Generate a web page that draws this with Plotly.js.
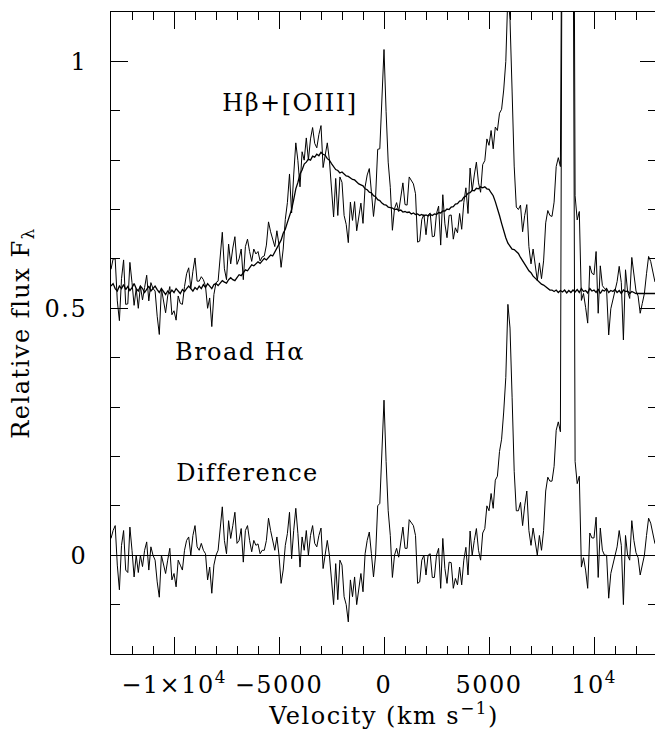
<!DOCTYPE html>
<html>
<head>
<meta charset="utf-8">
<script src="https://cdn.plot.ly/plotly-3.0.1.min.js"></script>
<style>
html, body { margin: 0; padding: 0; background: #fff; overflow: hidden; }
#chart { width: 660px; height: 730px; }
#chart text { letter-spacing: 1.5px; }
</style>
</head>
<body>
<div id="chart"></div>
<script>
// Velocity grid (km/s)
const velocity = [
-13000,-12900,-12800,-12700,-12600,-12500,-12400,-12300,-12200,-12100,
-12000,-11900,-11800,-11700,-11600,-11500,-11400,-11300,-11200,-11100,
-11000,-10900,-10800,-10700,-10600,-10500,-10400,-10300,-10200,-10100,
-10000,-9900,-9800,-9700,-9600,-9500,-9400,-9300,-9200,-9100,
-9000,-8900,-8800,-8700,-8600,-8500,-8400,-8300,-8200,-8100,
-8000,-7900,-7800,-7700,-7600,-7500,-7400,-7300,-7200,-7100,
-7000,-6900,-6800,-6700,-6600,-6500,-6400,-6300,-6200,-6100,
-6000,-5900,-5800,-5700,-5600,-5500,-5400,-5300,-5200,-5100,
-5000,-4900,-4800,-4700,-4600,-4500,-4400,-4300,-4200,-4100,
-4000,-3900,-3800,-3700,-3600,-3500,-3400,-3300,-3200,-3100,
-3000,-2900,-2800,-2700,-2600,-2500,-2400,-2300,-2200,-2100,
-2000,-1900,-1800,-1700,-1600,-1500,-1400,-1300,-1200,-1100,
-1000,-900,-800,-700,-600,-500,-400,-300,-200,-100,
0,100,200,300,400,500,600,700,800,900,
1000,1100,1200,1300,1400,1500,1600,1700,1800,1900,
2000,2100,2200,2300,2400,2500,2600,2700,2800,2900,
3000,3100,3200,3300,3400,3500,3600,3700,3800,3900,
4000,4100,4200,4300,4400,4500,4600,4700,4800,4900,
5000,5100,5200,5300,5400,5500,5600,5700,5800,5900,
6000,6100,6200,6300,6400,6500,6600,6700,6800,6900,
7000,7100,7200,7300,7400,7500,7600,7700,7800,7900,
8000,8100,8200,8300,8400,8500,8600,8700,8800,8900,
9000,9100,9200,9300,9400,9500,9600,9700,9800,9900,
10000,10100,10200,10300,10400,10500,10600,10700,10800,10900,
11000,11100,11200,11300,11400,11500,11600,11700,11800,11900,
12000,12100,12200,12300,12400,12500,12600,12700,12800,12900,
13000];

// H beta + [OIII] profile (relative flux)
const hbetaOIII = [
0.579,0.60,0.60,0.515,0.475,0.56,0.598,0.508,0.509,0.593,
0.552,0.506,0.54,0.50,0.545,0.517,0.542,0.567,0.515,0.552,
0.54,0.535,0.484,0.447,0.54,0.515,0.491,0.525,0.544,0.487,
0.495,0.476,0.525,0.51,0.508,0.544,0.57,0.582,0.54,0.575,
0.602,0.555,0.555,0.564,0.558,0.545,0.50,0.521,0.463,0.528,
0.552,0.555,0.60,0.654,0.58,0.558,0.63,0.59,0.622,0.645,
0.589,0.60,0.62,0.558,0.625,0.64,0.615,0.595,0.62,0.61,
0.615,0.596,0.604,0.606,0.628,0.675,0.655,0.64,0.625,0.657,
0.628,0.583,0.62,0.68,0.714,0.772,0.693,0.77,0.835,0.799,
0.746,0.817,0.80,0.845,0.80,0.843,0.866,0.834,0.825,0.852,
0.87,0.785,0.81,0.835,0.80,0.751,0.685,0.763,0.688,0.766,
0.755,0.688,0.67,0.633,0.715,0.678,0.716,0.657,0.689,0.713,
0.672,0.746,0.77,0.783,0.736,0.686,0.726,0.822,0.823,0.914,
1.024,0.898,0.796,0.745,0.658,0.702,0.714,0.696,0.728,0.754,
0.71,0.709,0.766,0.758,0.752,0.732,0.634,0.636,0.68,0.69,
0.649,0.689,0.693,0.645,0.646,0.692,0.707,0.628,0.73,0.671,
0.643,0.688,0.689,0.64,0.663,0.653,0.692,0.66,0.714,0.744,
0.692,0.784,0.738,0.77,0.796,0.754,0.735,0.791,0.799,0.843,
0.83,0.86,0.823,0.867,0.86,0.895,0.903,0.942,1.00,1.138,
1.085,0.94,0.788,0.705,0.70,0.709,0.655,0.688,0.71,0.625,
0.59,0.62,0.59,0.556,0.592,0.56,0.596,0.673,0.698,0.688,
0.686,0.715,0.787,0.805,0.787,2.135,2.833,3.136,3.134,2.732,
1.935,0.728,0.679,0.696,0.516,0.53,0.502,0.47,0.586,0.571,
0.568,0.615,0.49,0.586,0.546,0.54,0.537,0.446,0.499,0.519,
0.534,0.554,0.585,0.552,0.436,0.578,0.534,0.52,0.603,0.565,
0.535,0.525,0.49,0.51,0.53,0.57,0.605,0.595,0.575,0.554,
0.56];

// Broad H alpha profile (relative flux)
const broadHalpha = [
0.545,0.55,0.54,0.535,0.545,0.54,0.548,0.538,0.544,0.536,
0.542,0.55,0.54,0.535,0.545,0.54,0.532,0.54,0.545,0.535,
0.54,0.545,0.538,0.532,0.54,0.535,0.528,0.535,0.53,0.537,
0.532,0.54,0.535,0.53,0.538,0.534,0.54,0.545,0.54,0.535,
0.542,0.538,0.545,0.54,0.548,0.542,0.55,0.545,0.54,0.548,
0.55,0.546,0.552,0.556,0.553,0.551,0.558,0.562,0.558,0.556,
0.562,0.568,0.566,0.571,0.578,0.576,0.582,0.588,0.586,0.59,
0.594,0.591,0.596,0.601,0.598,0.603,0.608,0.606,0.614,0.62,
0.63,0.638,0.652,0.66,0.674,0.688,0.70,0.72,0.742,0.755,
0.772,0.78,0.792,0.796,0.802,0.80,0.808,0.806,0.812,0.809,
0.816,0.812,0.81,0.803,0.80,0.793,0.786,0.781,0.779,0.774,
0.776,0.771,0.768,0.767,0.763,0.761,0.76,0.755,0.752,0.75,
0.748,0.742,0.74,0.735,0.734,0.728,0.726,0.72,0.718,0.713,
0.71,0.709,0.705,0.704,0.703,0.70,0.701,0.698,0.699,0.695,
0.696,0.694,0.695,0.691,0.693,0.69,0.691,0.688,0.69,0.687,
0.689,0.687,0.69,0.688,0.691,0.69,0.694,0.693,0.697,0.697,
0.701,0.70,0.705,0.706,0.711,0.712,0.717,0.718,0.725,0.727,
0.733,0.734,0.739,0.738,0.743,0.742,0.746,0.744,0.746,0.742,
0.741,0.734,0.728,0.716,0.703,0.688,0.672,0.655,0.643,0.632,
0.627,0.62,0.619,0.614,0.611,0.603,0.597,0.589,0.583,0.576,
0.572,0.565,0.561,0.556,0.553,0.549,0.547,0.543,0.541,0.537,
0.537,0.534,0.537,0.532,0.536,0.533,0.537,0.531,0.536,0.532,
0.537,0.533,0.538,0.532,0.54,0.534,0.536,0.531,0.54,0.535,
0.537,0.532,0.539,0.53,0.537,0.535,0.54,0.532,0.536,0.534,
0.538,0.532,0.536,0.53,0.537,0.534,0.535,0.53,0.534,0.532,
0.53,0.53,0.53,0.53,0.53,0.53,0.53,0.53,0.53,0.53,
0.53];

// Difference spectrum
const difference = [
0.034,0.05,0.06,-0.02,-0.07,0.02,0.05,-0.03,-0.035,0.057,
0.01,-0.044,0.0,-0.035,0.0,-0.023,0.01,0.027,-0.03,0.017,
0.0,-0.01,-0.054,-0.085,0.0,-0.02,-0.037,-0.01,0.014,-0.05,
-0.037,-0.064,-0.01,-0.02,-0.03,0.01,0.03,0.037,0.0,0.04,
0.06,0.017,0.01,0.024,0.01,0.003,-0.05,-0.024,-0.077,-0.02,
0.0,0.01,0.05,0.098,0.03,0.003,0.07,0.034,0.06,0.087,
0.024,0.03,0.054,-0.014,0.05,0.06,0.03,0.007,0.03,0.02,
0.023,0.003,0.01,0.01,0.03,0.075,0.05,0.03,0.01,0.037,
0.0,-0.057,-0.03,0.02,0.044,0.087,-0.007,0.05,0.095,0.044,
-0.024,0.037,0.01,0.05,0.0,0.04,0.06,0.024,0.017,0.04,
0.055,-0.027,0.0,0.03,0.0,-0.044,-0.1,-0.017,-0.09,-0.01,
-0.02,-0.084,-0.1,-0.135,-0.05,-0.084,-0.044,-0.1,-0.064,-0.037,
-0.074,0.003,0.03,0.047,0.003,-0.044,0.0,0.1,0.105,0.2,
0.314,0.19,0.09,0.04,-0.045,0.0,0.014,-0.004,0.03,0.057,
0.014,0.014,0.072,0.065,0.06,0.04,-0.057,-0.054,-0.01,0.0,
-0.04,0.0,0.003,-0.045,-0.045,0.0,0.014,-0.067,0.034,-0.027,
-0.057,-0.014,-0.015,-0.067,-0.047,-0.06,-0.024,-0.06,-0.01,0.016,
-0.04,0.049,0.0,0.03,0.054,0.01,-0.01,0.045,0.054,0.10,
0.09,0.125,0.095,0.152,0.16,0.21,0.235,0.29,0.36,0.508,
0.46,0.32,0.17,0.09,0.09,0.107,0.06,0.10,0.13,0.05,
0.02,0.055,0.03,0.0,0.04,0.01,0.05,0.13,0.158,0.15,
0.15,0.18,0.253,0.27,0.25,1.6,2.3,2.6,2.6,2.2,
1.4,0.19,0.145,0.16,-0.024,-0.005,-0.03,-0.067,0.045,0.035,
0.035,0.077,-0.045,0.055,0.01,0.0,0.0,-0.087,-0.037,-0.02,
0.0,0.017,0.05,0.02,-0.1,0.04,0.0,-0.01,0.07,0.03,
0.005,-0.005,-0.04,-0.02,0.0,0.04,0.075,0.065,0.045,0.024,
0.03];

// Axis ticks and labels
const xRange = [-13000, 13000];
const yRange = [-0.2, 1.1];
const xTickVals = [-10000, -5000, 0, 5000, 10000];
const xTickText = ["\u22121\u00d710<sup>4</sup>", "\u22125000", "0", "5000", "10<sup>4</sup>"];
const yTickVals = [0, 0.5, 1];
const yTickText = ["0", "0.5", "1"];

// Curve labels
const labelTexts = ["H\u03b2+[OIII]", "Broad H\u03b1", "Difference"];
const labelX = [-4480, -6850, -6480];
const labelY = [0.915, 0.411, 0.166];

const FONT = "'DejaVu Serif', 'Liberation Serif', serif";
const FSIZE = 24;

const traces = [
  { x: velocity, y: hbetaOIII, type: "scatter", mode: "lines", name: "H\u03b2+[OIII]",
    line: { color: "#000", width: 1 }, hoverinfo: "skip" },
  { x: velocity, y: broadHalpha, type: "scatter", mode: "lines", name: "Broad H\u03b1",
    line: { color: "#000", width: 1.3 }, hoverinfo: "skip" },
  { x: velocity, y: difference, type: "scatter", mode: "lines", name: "Difference",
    line: { color: "#000", width: 1 }, hoverinfo: "skip" },
  // empty traces so the tick-only frame axes are drawn
  { x: [], y: [], type: "scatter", mode: "lines", xaxis: "x2", yaxis: "y2", hoverinfo: "skip" },
  { x: [], y: [], type: "scatter", mode: "lines", xaxis: "x3", yaxis: "y3", hoverinfo: "skip" }
];

const tickOnly = (extra) => Object.assign({
  showline: false, showgrid: false, zeroline: false, automargin: false,
  showticklabels: false, ticks: "inside", tickcolor: "#000", tickwidth: 1, ticklen: 17
}, extra);

const layout = {
  width: 660, height: 730,
  margin: { l: 111, r: 3, t: 12, b: 76 },
  paper_bgcolor: "#fff", plot_bgcolor: "#fff",
  showlegend: false,
  font: { family: FONT, color: "#000" },
  xaxis: {
    range: xRange, tickmode: "array", tickvals: xTickVals, ticktext: xTickText,
    showline: true, linecolor: "#000", linewidth: 1, mirror: true,
    ticks: "outside", ticklen: 9, tickcolor: "rgba(0,0,0,0)",
    showgrid: false, zeroline: false, automargin: false,
    tickfont: { family: FONT, size: FSIZE, color: "#000" },
    title: { text: "Velocity (km s<sup>\u22121</sup>)", font: { family: FONT, size: FSIZE, color: "#000" }, standoff: 11 }
  },
  yaxis: {
    range: yRange, tickmode: "array", tickvals: yTickVals, ticktext: yTickText,
    showline: true, linecolor: "#000", linewidth: 1, mirror: true,
    ticks: "outside", ticklen: 18, tickcolor: "rgba(0,0,0,0)",
    showgrid: false, automargin: false,
    zeroline: true, zerolinecolor: "#000", zerolinewidth: 1,
    tickfont: { family: FONT, size: FSIZE, color: "#000" },
    title: { text: "Relative flux F<sub>\u03bb</sub>", font: { family: FONT, size: FSIZE, color: "#000" }, standoff: 12 }
  },
  xaxis2: tickOnly({ overlaying: "x", anchor: "y2", side: "bottom", range: xRange,
    tickmode: "array", tickvals: xTickVals,
    minor: { tickmode: "linear", tick0: 0, dtick: 1000, ticks: "inside", ticklen: 8, tickcolor: "#000", tickwidth: 1, showgrid: false } }),
  yaxis2: tickOnly({ overlaying: "y", anchor: "x2", side: "left", range: yRange,
    tickmode: "array", tickvals: yTickVals,
    minor: { tickmode: "linear", tick0: 0, dtick: 0.1, ticks: "inside", ticklen: 9, tickcolor: "#000", tickwidth: 1, showgrid: false } }),
  xaxis3: tickOnly({ overlaying: "x", anchor: "y3", side: "top", range: xRange,
    tickmode: "array", tickvals: xTickVals,
    minor: { tickmode: "linear", tick0: 0, dtick: 1000, ticks: "inside", ticklen: 8, tickcolor: "#000", tickwidth: 1, showgrid: false } }),
  yaxis3: tickOnly({ overlaying: "y", anchor: "x3", side: "right", range: yRange,
    tickmode: "array", tickvals: yTickVals,
    minor: { tickmode: "linear", tick0: 0, dtick: 0.1, ticks: "inside", ticklen: 9, tickcolor: "#000", tickwidth: 1, showgrid: false } }),
  annotations: labelTexts.map((t, i) => ({
    x: labelX[i], y: labelY[i], xref: "x", yref: "y", text: t, showarrow: false,
    font: { family: FONT, size: FSIZE, color: "#000" }, xanchor: "center", yanchor: "middle"
  }))
};

Plotly.newPlot("chart", traces, layout, { staticPlot: true, displayModeBar: false });
</script>
</body>
</html>
